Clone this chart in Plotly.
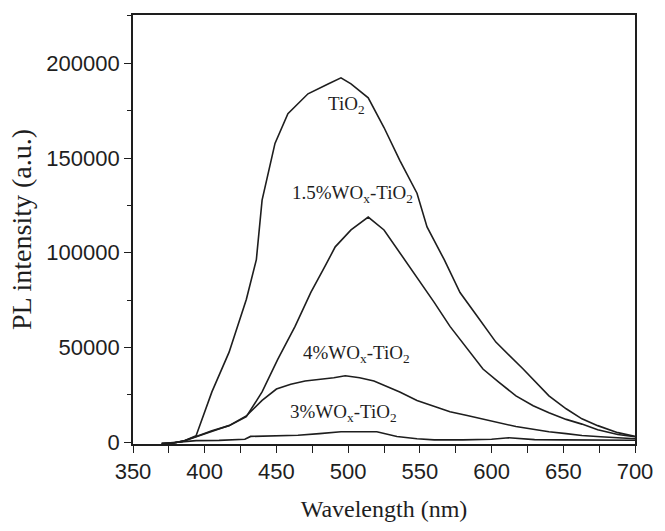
import plotly.graph_objects as go

# ---- data ----
wl_tio2 = [370, 378, 385, 394, 405, 417, 429, 436, 440, 449, 458, 472, 486, 495, 502, 514, 525, 536, 548, 555, 567, 578, 590, 603, 622, 640, 652, 663, 674, 688, 700]
pl_tio2 = [-800, -500, 500, 3400, 26500, 47500, 75300, 96300, 127800, 157700, 173400, 183900, 189100, 192300, 189100, 181800, 166100, 148800, 131400, 113600, 96300, 79000, 66400, 52800, 38600, 24400, 17600, 12300, 8700, 5000, 3000]

wl_15 = [370, 378, 385, 394, 405, 417, 429, 440, 451, 463, 474, 484, 491, 502, 514, 525, 536, 548, 560, 571, 583, 594, 605, 617, 629, 640, 652, 663, 674, 688, 700]
pl_15 = [-800, -500, 500, 2900, 6000, 8700, 13400, 26500, 43800, 61100, 79000, 93000, 103100, 112000, 118800, 112000, 100000, 87400, 73800, 61100, 49100, 38600, 31700, 24400, 19200, 15500, 12000, 9500, 6500, 4000, 2800]

wl_4 = [370, 378, 385, 394, 405, 417, 429, 440, 450, 460, 470, 480, 490, 498, 508, 518, 528, 536, 548, 560, 571, 583, 594, 605, 617, 629, 640, 652, 663, 676, 688, 700]
pl_4 = [-800, -500, 500, 2800, 5500, 8700, 13800, 22000, 28000, 30500, 32300, 33000, 34000, 35000, 34000, 32300, 29000, 26500, 22000, 18800, 16000, 14000, 12000, 10000, 8200, 6800, 5500, 4500, 3500, 2800, 2200, 1800]

wl_3 = [370, 385, 394, 410, 428, 432, 450, 465, 480, 495, 520, 534, 548, 560, 580, 600, 612, 620, 630, 650, 670, 700]
pl_3 = [-800, 0, 800, 900, 1500, 3000, 3400, 3600, 4500, 5500, 5500, 3000, 1800, 1200, 1200, 1500, 2300, 2000, 1300, 1200, 1000, 1000]

series = [
    ("TiO<sub>2</sub>", wl_tio2, pl_tio2),
    ("1.5%WO<sub>x</sub>-TiO<sub>2</sub>", wl_15, pl_15),
    ("4%WO<sub>x</sub>-TiO<sub>2</sub>", wl_4, pl_4),
    ("3%WO<sub>x</sub>-TiO<sub>2</sub>", wl_3, pl_3),
]

# curve labels: (text, x, y)
labels = [
    ("TiO<sub>2</sub>", 499, 178000),
    ("1.5%WO<sub>x</sub>-TiO<sub>2</sub>", 503, 131000),
    ("4%WO<sub>x</sub>-TiO<sub>2</sub>", 506, 46500),
    ("3%WO<sub>x</sub>-TiO<sub>2</sub>", 497, 15500),
]

x_ticks = [350, 400, 450, 500, 550, 600, 650, 700]
y_ticks = [0, 50000, 100000, 150000, 200000]

INK = "#1e1e1e"

fig = go.Figure()
for name, xs, ys in series:
    fig.add_trace(go.Scatter(x=xs, y=ys, mode="lines", name=name,
                             line=dict(color=INK, width=1.6), showlegend=False,
                             hoverinfo="skip"))

for text, x, y in labels:
    fig.add_annotation(x=x, y=y, text=text, showarrow=False,
                       font=dict(family="Liberation Serif", size=19, color=INK))

fig.update_layout(
    width=665, height=531,
    margin=dict(l=133, r=25, t=15, b=87),
    paper_bgcolor="white", plot_bgcolor="white",
    font=dict(family="Liberation Sans", color=INK),
)

fig.update_xaxes(
    range=[350, 700], tickvals=x_ticks, ticktext=[str(v) for v in x_ticks],
    ticks="outside", ticklen=7, tickwidth=1.4, tickcolor=INK,
    minor=dict(dtick=25, tick0=350, ticks="outside", ticklen=7, tickwidth=1.4, tickcolor=INK),
    showline=True, linecolor=INK, linewidth=1.8, mirror=True,
    showgrid=False, zeroline=False,
    tickfont=dict(family="Liberation Sans", size=22, color=INK),
    title=dict(text="Wavelength (nm)", standoff=17,
               font=dict(family="Liberation Serif", size=24, color=INK)),
)
fig.update_yaxes(
    range=[-1000, 225500], tickvals=y_ticks, ticktext=[str(v) for v in y_ticks],
    ticks="outside", ticklen=7, tickwidth=1.4, tickcolor=INK,
    minor=dict(dtick=25000, tick0=0, ticks="outside", ticklen=4, tickwidth=1.2, tickcolor=INK),
    showline=True, linecolor=INK, linewidth=1.8, mirror=True,
    showgrid=False, zeroline=False,
    tickfont=dict(family="Liberation Sans", size=22, color=INK),
    title=dict(text="PL intensity (a.u.)", standoff=6,
               font=dict(family="Liberation Serif", size=28, color=INK)),
)

fig.write_html("out.html")
